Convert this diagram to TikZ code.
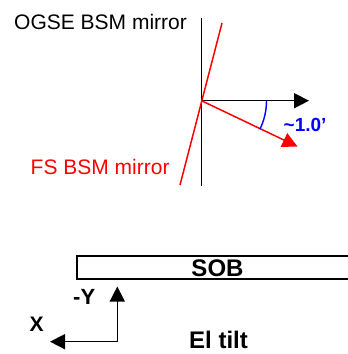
\documentclass[tikz,border=0pt]{standalone}
\usepackage{fontspec}
\setmainfont{Liberation Sans}
\usetikzlibrary{arrows.meta}
\begin{document}
\begin{tikzpicture}[x=1pt,y=-1pt,
  lbl/.style={inner sep=0pt,anchor=center},
  ln/.style={line width=1.5pt},
  tri/.style={-{Triangle[length=15pt,width=15pt]}}]
\useasboundingbox (0,0) rectangle (348,354);
% mirror diagram
\coordinate (O) at (201.5,100.7);
\coordinate (vtop) at (201.5,18);
\coordinate (vbot) at (201.5,186);
\coordinate (rtop) at (222,23);
\coordinate (rbot) at (180,185);
\coordinate (htip) at (309,100.7);
\coordinate (rtip) at (297.5,146.5);
\draw[ln,black] (vtop) -- (vbot);
\draw[ln,red] (rtop) -- (rbot);
\draw[ln,black,tri] (O) -- (htip);
\draw[ln,red,tri] (O) -- (rtip);
\draw[line width=1.4pt,blue] ([shift={(0:65)}]O) arc[start angle=0,end angle=26,radius=65];
\node[lbl,font=\fontsize{21}{23}\selectfont,anchor=base west] (ogse) at (14,29) {OGSE BSM mirror};
\node[lbl,font=\fontsize{21}{23}\selectfont,red,anchor=base west] (fs) at (30.5,174) {FS BSM mirror};
\node[lbl,font=\fontsize{19}{21}\selectfont\bfseries,blue,anchor=base west] (ang) at (283.5,131) {\textasciitilde 1.0’};
% SOB
\draw[line width=1.3pt] (349,256) -- (77,256) -- (77,279) -- (349,279);
\node[lbl,font=\fontsize{24}{26}\selectfont\bfseries,anchor=base] (sob) at (217.5,276.5) {SOB};
% axes
\coordinate (c) at (117.3,341.7);
\coordinate (ytip) at (117.3,286.5);
\coordinate (xtip) at (50,341.7);
\draw[ln,tri] (c) -- (ytip);
\draw[ln,tri] (c) -- (xtip);
\node[lbl,font=\fontsize{22}{24}\selectfont\bfseries,anchor=base west] (ny) at (73,304) {-Y};
\node[lbl,font=\fontsize{21}{23}\selectfont\bfseries,anchor=base west] (xl) at (29.5,331.7) {X};
\node[lbl,font=\fontsize{24}{26}\selectfont\bfseries,anchor=base west] (el) at (189,348.5) {El tilt};
\end{tikzpicture}
\end{document}
